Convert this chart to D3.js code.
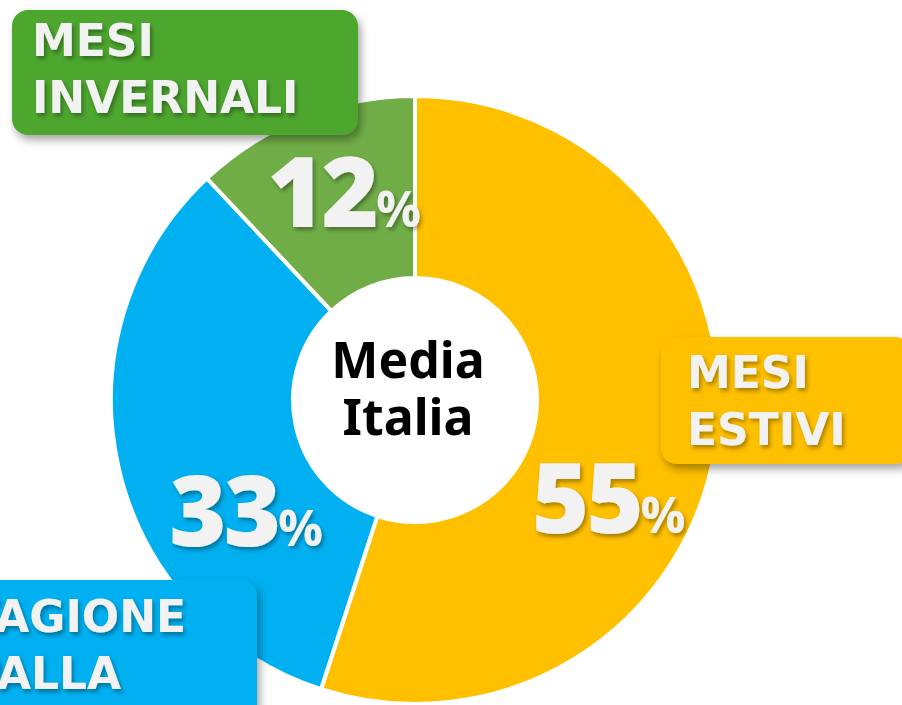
<!DOCTYPE html>
<html>
<head>
<meta charset="utf-8">
<script src="https://cdn.jsdelivr.net/npm/d3@7"></script>
<style>
  html, body { margin: 0; padding: 0; background: #fff; overflow: hidden; }
  svg { display: block; }
</style>
</head>
<body>
<svg width="902" height="705"></svg>
<script>
(function() {
  // chart data
  var categories = ["MESI ESTIVI", "STAGIONE SPALLA", "MESI INVERNALI"];
  var labelLines = [["MESI", "ESTIVI"], ["STAGIONE", "SPALLA"], ["MESI", "INVERNALI"]];
  var values = [55, 33, 12];
  var sliceColors = ["#FFC000", "#00B0F0", "#70AD47"];
  var boxColors = ["#FFC000", "#00B0F0", "#4EA72E"];
  var centerTitle = ["Media", "Italia"];

  var svg = d3.select("svg"),
    width = +svg.attr("width"),
    height = +svg.attr("height");

  var cx = 415, cy = 400,
    outerR = 304, innerR = 122;

  // filters for shadows
  var defs = svg.append("defs");
  var f1 = defs.append("filter").attr("id", "boxShadow")
      .attr("x", "-20%").attr("y", "-20%").attr("width", "140%").attr("height", "150%");
  f1.append("feDropShadow").attr("dx", 3).attr("dy", 5).attr("stdDeviation", 4)
      .attr("flood-color", "#000").attr("flood-opacity", 0.35);
  var f2 = defs.append("filter").attr("id", "textShadow")
      .attr("x", "-20%").attr("y", "-20%").attr("width", "140%").attr("height", "150%");
  f2.append("feDropShadow").attr("dx", 2).attr("dy", 3).attr("stdDeviation", 2.2)
      .attr("flood-color", "#000").attr("flood-opacity", 0.35);

  var pie = d3.pie().sort(null).value(function(d) { return d; });
  var arc = d3.arc().innerRadius(innerR).outerRadius(outerR);
  var arcs = pie(values);

  var g = svg.append("g").attr("transform", "translate(" + cx + "," + cy + ")");

  g.selectAll("path.slice")
    .data(arcs)
    .enter().append("path")
      .attr("class", "slice")
      .attr("d", arc)
      .attr("fill", function(d, i) { return sliceColors[i]; })
      .attr("stroke", "#fff")
      .attr("stroke-width", 4)
      .attr("stroke-linejoin", "miter");

  // centre text, one line per element
  g.selectAll("text.title")
    .data(centerTitle)
    .enter().append("text")
      .attr("class", "title")
      .attr("text-anchor", "middle")
      .attr("font-family", "'Noto Sans', sans-serif")
      .attr("font-weight", 700)
      .attr("font-size", 50)
      .attr("fill", "#000")
      .attr("x", -7)
      .attr("y", function(d, i) { return -22 + i * 57; })
      .text(function(d) { return d; });

  // label boxes (layout only)
  var boxLayout = [
    { x: 661, y: 337, w: 250, h: 127, tx: 26, ty: 51 },
    { x: -80, y: 580, w: 337, h: 160, tx: 17, ty: 52 },
    { x: 12, y: 10, w: 346, h: 125, tx: 20, ty: 46 }
  ];

  var boxes = svg.selectAll("g.box")
    .data(categories)
    .enter().append("g")
      .attr("class", "box")
      .attr("transform", function(d, i) { return "translate(" + boxLayout[i].x + "," + boxLayout[i].y + ")"; });

  boxes.append("rect")
      .attr("width", function(d, i) { return boxLayout[i].w; })
      .attr("height", function(d, i) { return boxLayout[i].h; })
      .attr("rx", 16)
      .attr("fill", function(d, i) { return boxColors[i]; })
      .attr("filter", "url(#boxShadow)");

  boxes.selectAll("text")
    .data(function(d, i) { return labelLines[i].map(function(t) { return { t: t, i: i }; }); })
    .enter().append("text")
      .attr("font-family", "'DejaVu Sans', sans-serif")
      .attr("font-weight", 700)
      .attr("font-size", 44)
      .attr("fill", "#F2F2F2")
      .attr("filter", "url(#textShadow)")
      .attr("x", function(d) { return boxLayout[d.i].tx; })
      .attr("y", function(d, j) { return boxLayout[d.i].ty + j * 57; })
      .text(function(d) { return d.t; });

  // percentage labels, placed around the ring
  var pctPos = [
    { a: 116.8, r: 217 },
    { a: 236.7, r: 202 },
    { a: -18.8, r: 220 }
  ];

  var pct = g.selectAll("text.pct")
    .data(arcs)
    .enter().append("text")
      .attr("class", "pct")
      .attr("text-anchor", "middle")
      .attr("font-family", "'Open Sans', sans-serif")
      .attr("font-weight", 800)
      .attr("fill", "#F2F2F2")
      .attr("filter", "url(#textShadow)")
      .attr("x", function(d, i) { return pctPos[i].r * Math.sin(pctPos[i].a * Math.PI / 180); })
      .attr("y", function(d, i) { return -pctPos[i].r * Math.cos(pctPos[i].a * Math.PI / 180) + 35; });

  pct.append("tspan")
      .attr("font-size", 98)
      .attr("letter-spacing", -3)
      .text(function(d) { return d.data; });
  pct.append("tspan")
      .attr("font-size", 50)
      .attr("font-weight", 700)
      .text("%");
})();
</script>
</body>
</html>
